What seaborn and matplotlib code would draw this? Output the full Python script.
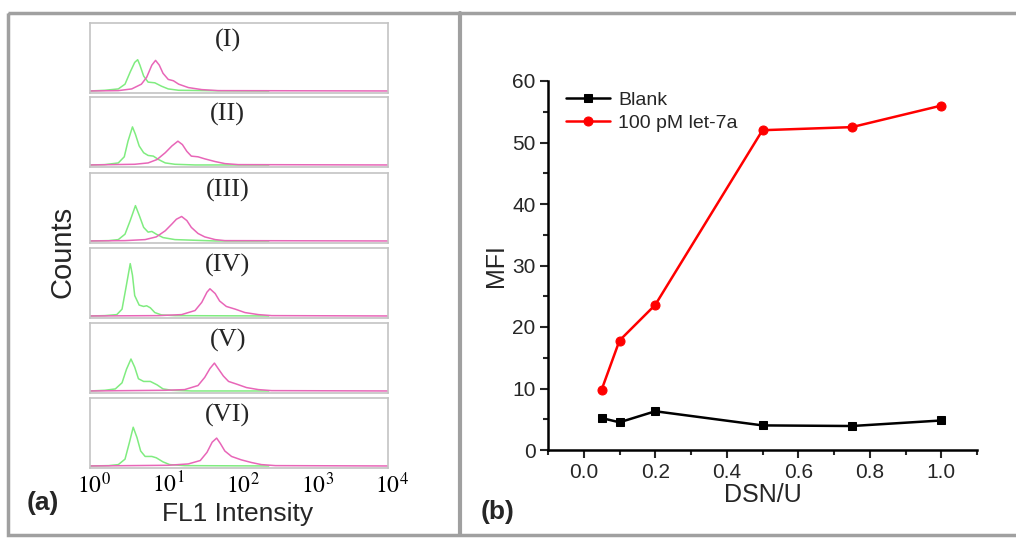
import numpy as np
import pandas as pd
import matplotlib
matplotlib.use("Agg")
import matplotlib.pyplot as plt
import seaborn as sns
from matplotlib.patches import Rectangle
from matplotlib.ticker import MultipleLocator

# ---- data ----------------------------------------------------------------
# (b) MFI vs DSN amount
dsn_units = [0.05, 0.1, 0.2, 0.5, 0.75, 1.0]
mfi_blank = [5.2, 4.5, 6.3, 4.0, 3.9, 4.8]
mfi_let7a = [9.8, 17.8, 23.6, 52.0, 52.5, 56.0]

# (a) flow cytometry histograms
# x = log10(FL1 intensity), y = counts (% of panel height)
panel_labels = ["(I)", "(II)", "(III)", "(IV)", "(V)", "(VI)"]

green_x = [
    [0, 0.2, 0.38, 0.47, 0.54, 0.60, 0.64, 0.67, 0.72, 0.78, 0.87, 0.96, 1.05, 1.19, 1.72, 2.4],
    [0, 0.2, 0.38, 0.46, 0.51, 0.57, 0.61, 0.66, 0.72, 0.78, 0.85, 0.92, 1.01, 1.14, 1.41, 2.4],
    [0, 0.25, 0.38, 0.47, 0.54, 0.61, 0.66, 0.72, 0.78, 0.83, 0.89, 0.98, 1.14, 1.41, 1.68, 2.4],
    [0, 0.2, 0.36, 0.43, 0.48, 0.54, 0.57, 0.60, 0.66, 0.72, 0.76, 0.81, 0.87, 0.96, 1.14, 2.4],
    [0, 0.2, 0.34, 0.43, 0.49, 0.55, 0.60, 0.65, 0.72, 0.81, 0.90, 0.98, 1.10, 1.36, 2.4],
    [0, 0.25, 0.38, 0.47, 0.53, 0.58, 0.63, 0.68, 0.74, 0.83, 0.89, 0.98, 1.07, 1.27, 2.4],
]
green_y = [
    [0, 1, 3, 10, 28, 42, 46, 38, 22, 13, 12, 7, 3, 1, 0.3, 0],
    [0, 0.5, 3, 12, 35, 56, 45, 28, 18, 14, 13, 8, 3, 1, 0, 0],
    [0, 0.5, 2, 10, 30, 52, 38, 20, 13, 14, 10, 5, 2, 1, 0, 0],
    [0, 0.5, 2, 10, 40, 77, 60, 30, 16, 14, 15, 12, 5, 1.5, 0.5, 0],
    [0, 1, 3, 12, 32, 47, 35, 18, 14, 14, 9, 3, 1, 0, 0],
    [0, 0.5, 2, 10, 35, 57, 42, 22, 14, 14, 12, 6, 2, 0.5, 0],
]
pink_x = [
    [0, 0.38, 0.56, 0.69, 0.76, 0.83, 0.88, 0.93, 0.98, 1.05, 1.12, 1.19, 1.32, 1.50, 1.72, 4],
    [0, 0.60, 0.78, 0.90, 1.01, 1.10, 1.18, 1.24, 1.30, 1.36, 1.45, 1.54, 1.68, 1.81, 1.99, 4],
    [0, 0.47, 0.74, 0.89, 1.01, 1.10, 1.16, 1.23, 1.30, 1.36, 1.45, 1.54, 1.68, 1.81, 4],
    [0, 0.92, 1.23, 1.41, 1.50, 1.57, 1.61, 1.68, 1.74, 1.83, 1.95, 2.08, 2.26, 2.44, 4],
    [0, 1.01, 1.27, 1.45, 1.54, 1.61, 1.67, 1.72, 1.79, 1.86, 1.97, 2.10, 2.26, 2.44, 4],
    [0, 1.05, 1.32, 1.48, 1.57, 1.64, 1.70, 1.75, 1.81, 1.90, 2.03, 2.17, 2.30, 2.49, 4],
]
pink_y = [
    [0, 0.5, 3, 10, 20, 38, 45, 38, 26, 17, 15, 10, 5, 2, 0.5, 0],
    [0, 1, 3, 8, 18, 28, 35, 30, 20, 13, 12, 9, 5, 2, 0.5, 0],
    [0, 0.5, 2, 6, 15, 25, 32, 36, 30, 20, 11, 6, 2, 0.5, 0],
    [0, 0.5, 2, 8, 20, 35, 40, 33, 22, 14, 10, 5, 2, 0.5, 0],
    [0, 1, 2, 8, 20, 33, 41, 33, 22, 14, 10, 5, 2, 0.5, 0],
    [0, 1, 3, 8, 20, 35, 41, 33, 22, 14, 9, 5, 2, 0.5, 0],
]
decade_labels = [r"$10^{0}$", r"$10^{1}$", r"$10^{2}$", r"$10^{3}$", r"$10^{4}$"]

# ---- figure --------------------------------------------------------------
sns.set_theme(style="ticks")
plt.rcParams["font.family"] = ["Liberation Sans", "DejaVu Sans"]
plt.rcParams["mathtext.fontset"] = "stix"

W, H = 1016, 539
fig = plt.figure(figsize=(W / 100, H / 100), dpi=100)


def px_axes(x0, y0, x1, y1):
    # axes from pixel box (top-left origin)
    return fig.add_axes([x0 / W, 1 - y1 / H, (x1 - x0) / W, (y1 - y0) / H])


# outer frame and divider
frame = fig.add_axes([0, 0, 1, 1])
frame.set_xlim(0, W)
frame.set_ylim(H, 0)
frame.axis("off")
frame.add_patch(Rectangle((8, 13), 1016, 522, fill=False, ec="#a0a0a0", lw=2.5))
frame.plot([460, 460], [13, 535], color="#a0a0a0", lw=3)

# ---- (a) stacked histograms ---------------------------------------------
green = "#80ec80"
pink = "#e866b8"
tops = [23, 97, 173, 248, 323, 398]
for i, top in enumerate(tops):
    ax = px_axes(90, top, 388, top + 70)
    sns.lineplot(x=green_x[i], y=green_y[i], ax=ax, color=green, lw=1.1, sort=False)
    sns.lineplot(x=pink_x[i], y=pink_y[i], ax=ax, color=pink, lw=1.1, sort=False)
    ax.set_xlim(0, 4)
    ax.set_ylim(-3, 100)
    ax.set_xticks([])
    ax.set_yticks([])
    ax.set_xlabel("")
    ax.set_ylabel("")
    for s in ax.spines.values():
        s.set_color("#c4c4c4")
        s.set_linewidth(1.2)
    ax.text(1.85, 74, panel_labels[i], ha="center", va="center",
            fontsize=19, family="Liberation Serif")

for k, lab in enumerate(decade_labels):
    frame.text(90 + k * 74.5 + 4, 485, lab, ha="center", va="center",
               fontsize=17, color="black")
frame.text(238, 514, "FL1 Intensity", ha="center", va="center", fontsize=19)
frame.text(63, 252, "Counts", ha="center", va="center", rotation=90, fontsize=21)
frame.text(43, 503, "(a)", ha="center", va="center", fontsize=19, fontweight="bold")

# ---- (b) MFI vs DSN ------------------------------------------------------
df = pd.DataFrame({
    "DSN/U": dsn_units * 2,
    "MFI": mfi_blank + mfi_let7a,
    "group": ["Blank"] * len(dsn_units) + ["100 pM let-7a"] * len(dsn_units),
})
axb = px_axes(548, 81, 977, 450)
sns.lineplot(data=df[df.group == "Blank"], x="DSN/U", y="MFI", ax=axb,
             color="black", marker="s", markersize=5.5, markeredgecolor="black",
             lw=1.8, label="Blank")
sns.lineplot(data=df[df.group != "Blank"], x="DSN/U", y="MFI", ax=axb,
             color="#ff0000", marker="o", markersize=6.5, markeredgecolor="#ff0000",
             lw=1.8, label="100 pM let-7a")
axb.set_xlim(-0.1, 1.1)
axb.set_ylim(0, 60)
axb.xaxis.set_major_locator(MultipleLocator(0.2))
axb.xaxis.set_minor_locator(MultipleLocator(0.1))
axb.yaxis.set_major_locator(MultipleLocator(10))
axb.yaxis.set_minor_locator(MultipleLocator(5))
axb.tick_params(which="major", length=6, width=1.5, labelsize=15, direction="out", pad=3)
axb.tick_params(which="minor", length=3.5, width=1.5, direction="out")
axb.xaxis.set_major_formatter(plt.FuncFormatter(lambda v, p: f"{v:.1f}"))
sns.despine(ax=axb)
for s in ("left", "bottom"):
    axb.spines[s].set_linewidth(1.8)
    axb.spines[s].set_color("black")
axb.set_xlabel("DSN/U", fontsize=18, labelpad=1)
axb.set_ylabel("MFI", fontsize=18, labelpad=3)
axb.legend(loc="upper left", bbox_to_anchor=(0.0, 1.02), frameon=False,
           fontsize=14, handlelength=2.3, handletextpad=0.4, labelspacing=0.3)
frame.text(498, 512, "(b)", ha="center", va="center", fontsize=19, fontweight="bold")

fig.savefig("out.png", dpi=100)
